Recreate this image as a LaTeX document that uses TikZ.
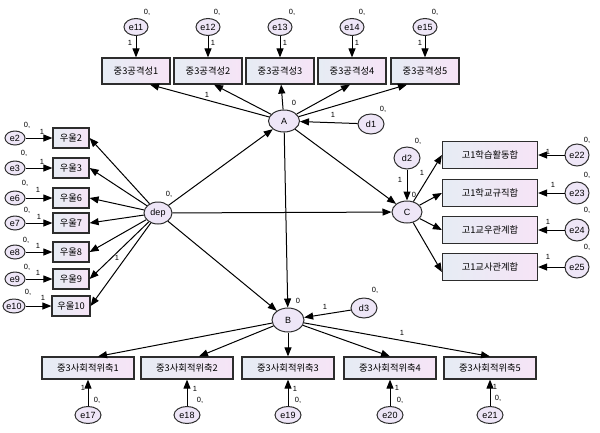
\documentclass[tikz,border=0pt]{standalone}
\usepackage{fontspec}
\setmainfont{Liberation Sans}
\newfontfamily\kr{Noto Sans CJK KR}
\usetikzlibrary{shapes.geometric,arrows.meta}
\definecolor{lav}{RGB}{238,230,247}
\definecolor{boxl}{RGB}{230,236,244}
\definecolor{boxr}{RGB}{246,228,246}
\definecolor{edge}{RGB}{45,45,45}
\tikzset{
  lat/.style={ellipse,draw=edge,line width=1pt,fill=lav,inner sep=0pt,font=\fontsize{9}{10}\selectfont},
  obs/.style={rectangle,draw=edge,line width=1.2pt,left color=boxl,right color=boxr,inner sep=0pt,font=\kr\fontsize{9.3}{10}\selectfont},
  arr/.style={-{Triangle[length=9pt,width=7pt]},line width=1pt,draw=black},
  lab/.style={font=\fontsize{7.5}{8}\selectfont,inner sep=0pt}
}
\begin{document}
\begin{tikzpicture}[x=1pt,y=-1pt]
\useasboundingbox (0,0) rectangle (600,432);
% latent nodes
\node[lat,minimum width=31,minimum height=22] (A) at (284,121) {A};
\node[lat,minimum width=32,minimum height=24] (B) at (288,320) {B};
\node[lat,minimum width=30,minimum height=22] (C) at (407,212) {C};
\node[lat,minimum width=28,minimum height=22] (dep) at (158,213) {dep};
\node[lat,minimum width=26,minimum height=20] (d1) at (371,124) {d1};
\node[lat,minimum width=26,minimum height=22] (d2) at (407,158) {d2};
\node[lat,minimum width=26,minimum height=20] (d3) at (364,308) {d3};
% top boxes
\foreach \i/\x/\e in {1/136/11,2/208/12,3/280/13,4/352/14,5/425/15}{
  \node[obs,minimum width=68,minimum height=26] (t\i) at (\x,71) {중3공격성\i};
  \node[lat,minimum width=24,minimum height=17] (e\e) at (\x,27) {e\e};
  \draw[arr] (e\e) -- (t\i);
}
% left boxes
\foreach \n/\y/\e in {2/138/2,3/168/3,6/198/6,7/223/7,8/252/8,9/279/9}{
  \node[obs,minimum width=36,minimum height=20] (u\n) at (71,\y) {우울\n};
  \node[lat,minimum width=20,minimum height=14] (e\e) at (15,\y) {e\e};
  \draw[arr] (e\e) -- (u\n);
}
\node[obs,minimum width=38,minimum height=20] (u10) at (71,306) {우울10};
\node[lat,minimum width=22,minimum height=14] (e10) at (14,306) {e10};
\draw[arr] (e10) -- (u10);
% right boxes
\foreach \i/\y/\t/\e in {1/155/고1학습활동합/22,2/193/고1학교규직합/23,3/230/고1교우관계합/24,4/267/고1교사관계합/25}{
  \node[obs,minimum width=95,minimum height=27] (r\i) at (490,\y) {\t};
  \node[lat,minimum width=24,minimum height=22] (e\e) at (577,\y) {e\e};
  \draw[arr] (e\e) -- (r\i);
}
% bottom boxes
\foreach \i/\x/\e in {1/88/17,2/187/18,3/288/19,4/390/20,5/490/21}{
  \node[obs,minimum width=92,minimum height=22] (b\i) at (\x,368) {중3사회적위축\i};
  \node[lat,minimum width=26,minimum height=17] (e\e) at (\x,415) {e\e};
  \draw[arr] (e\e) -- (b\i);
}
% structural paths
\draw[arr] (A) -- ([xshift=14pt]t1.south);
\draw[arr] (A) -- ([xshift=6pt]t2.south);
\draw[arr] (A) -- (t3);
\draw[arr] (A) -- ([xshift=-2pt]t4.south);
\draw[arr] (A) -- ([xshift=-18pt]t5.south);
\draw[arr] (d1) -- (A);
\draw[arr] (dep) -- (A);
\draw[arr] (dep) -- (B);
\draw[arr] (dep) -- (C);
\foreach \n in {2,3,6,7,8,9,10}{ \draw[arr] (dep) -- (u\n.east); }
\draw[arr] (A) -- (B);
\draw[arr] (A) -- (C);
\draw[arr] (d2) -- (C);
\draw[arr] (d3) -- (B);
\draw[arr] (C) -- (r1.west);
\draw[arr] (C) -- (r2.west);
\draw[arr] (C) -- (r3.west);
\draw[arr] (C) -- ([yshift=-5pt]r4.west);
\draw[arr] (B) -- ([xshift=10pt]b1.north);
\draw[arr] (B) -- ([xshift=12pt]b2.north);
\draw[arr] (B) -- (b3);
\draw[arr] (B) -- (b4.north);
\draw[arr] (B) -- (b5.north);
% labels top
\foreach \x in {147,217,292,362,435}{ \node[lab] (z\x) at (\x,12) {0,}; }
\node[lab] (l11) at (130,43) {1};
\node[lab] (l12) at (213,43) {1};
\node[lab] (l13) at (285,43) {1};
\node[lab] (l14) at (357,43) {1};
\node[lab] (l15) at (420,43) {1};
% labels left
\foreach \x/\y [count=\k] in {27/125,24/153,25/183,27/210,26/240,27/267,28/292}{ \node[lab] (zl\k) at (\x,\y) {0,}; }
\foreach \x/\y [count=\k] in {42/132,42/162,38/190,39/217,38/246,38/273,43/298}{ \node[lab] (ll\k) at (\x,\y) {1}; }
\node[lab] (ldep1) at (117,258) {1};
\node[lab] (ldep0) at (169,194) {0,};
% labels centre
\node[lab] (lA1) at (207,95) {1};
\node[lab] (lA0) at (294,103) {0};
\node[lab] (ld1) at (333,115) {1};
\node[lab] (ld10) at (383,109) {0,};
\node[lab] (ld20) at (418,141) {0,};
\node[lab] (ld2) at (400,180) {1};
\node[lab] (lC1) at (422,173) {1};
\node[lab] (lC0) at (414,195) {0};
\node[lab] (lB0) at (298,301) {0};
\node[lab] (ld3) at (325,307) {1};
\node[lab] (ld30) at (375,290) {0,};
\node[lab] (lB5) at (402,333) {1};
% labels right
\foreach \y [count=\k] in {140,175,210,247}{ \node[lab] (zr\k) at (587,\y) {0,}; }
\foreach \x/\y [count=\k] in {548/152,553/185,548/222,548/257}{ \node[lab] (lr\k) at (\x,\y) {1}; }
% labels bottom
\foreach \x/\y/\u/\v [count=\k] in {83/388/97/400,195/389/200/400,295/389/298/400,397/388/400/400,495/387/498/398}{
  \node[lab] (lb\k) at (\x,\y) {1};
  \node[lab] (zb\k) at (\u,\v) {0,};
}
\end{tikzpicture}
\end{document}
